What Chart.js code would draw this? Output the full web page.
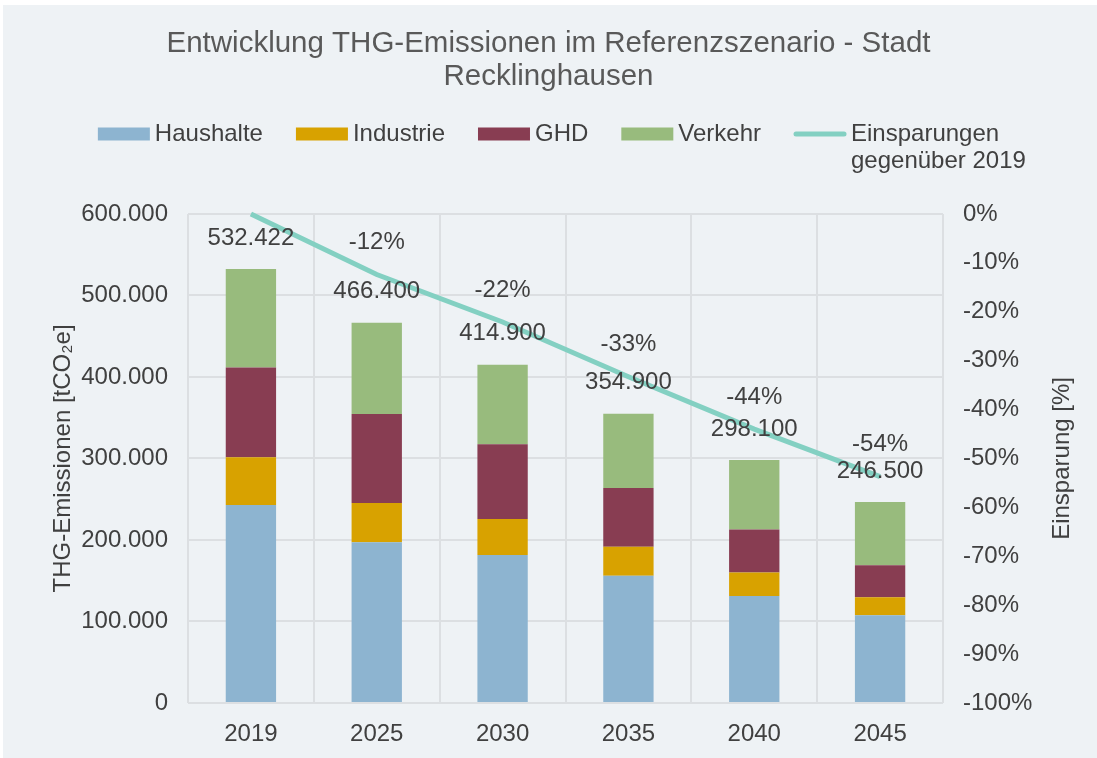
<!DOCTYPE html>
<html>
<head>
<meta charset="utf-8">
<script src="https://cdn.jsdelivr.net/npm/chart.js@4/dist/chart.umd.min.js"></script>
<style>
  html, body { margin: 0; padding: 0; background: #ffffff; }
  #wrap { position: absolute; left: 0; top: 0; width: 1097px; height: 758px; }
</style>
</head>
<body>
<div id="wrap"><canvas id="mychart"></canvas></div>
<script>
// data
var years = ['2019', '2025', '2030', '2035', '2040', '2045'];
var haushalte = [243000, 197100, 181700, 156100, 131200, 107700];
var industrie = [58600, 48400, 43900, 35700, 28900, 21900];
var ghd = [110100, 108900, 91800, 72000, 52800, 39400];
var verkehr = [120722, 112000, 97500, 91100, 85200, 77500];
var einsparung = [0, -12.4, -22.1, -33.3, -44.0, -53.7];
var leftTicks = [0, 100000, 200000, 300000, 400000, 500000, 600000];

var textCol = '#404040';
var gridCol = '#dcdfe2';
var fontName = '"Liberation Sans", Arial, sans-serif';
var fs = 24;

function fmt(v) {
    return String(Math.round(v)).replace(/\B(?=(\d{3})+(?!\d))/g, '.');
}

// background panel
var bgPlugin = {
    id: 'bg',
    beforeDraw: function(chart) {
        var ctx = chart.ctx;
        ctx.save();
        ctx.fillStyle = '#eef2f5';
        ctx.fillRect(3, 5, chart.width - 3, chart.height - 5);
        ctx.restore();
    }
};

// legend drawn by hand so that the last entry can wrap onto two lines
var legendPlugin = {
    id: 'myLegend',
    afterDraw: function(chart) {
        var ctx = chart.ctx;
        ctx.save();
        ctx.font = fs + 'px ' + fontName;
        ctx.textBaseline = 'middle';
        var items = chart.data.datasets.map(function(ds) {
            var lines = Array.isArray(ds.label) ? ds.label : [ds.label];
            var w = Math.max.apply(null, lines.map(function(t) { return ctx.measureText(t).width; }));
            return { ds: ds, lines: lines, w: w };
        });
        // legend order: bars first, line last
        items.sort(function(a, b) { return (a.ds.type === 'line') - (b.ds.type === 'line'); });
        var box = 52, gap = 5, space = 33;
        var total = 0;
        items.forEach(function(it, i) {
            total += box + gap + (i < items.length - 1 ? it.w + space : ctx.measureText(it.lines[0]).width);
        });
        var x = chart.width / 2 - total / 2;
        var y = 134;
        items.forEach(function(it) {
            if (it.ds.type === 'line') {
                ctx.strokeStyle = it.ds.borderColor;
                ctx.lineWidth = 5;
                ctx.lineCap = 'round';
                ctx.beginPath();
                ctx.moveTo(x + 2, y);
                ctx.lineTo(x + box - 2, y);
                ctx.stroke();
            } else {
                ctx.fillStyle = it.ds.backgroundColor;
                ctx.fillRect(x, y - 6.5, box, 13);
            }
            ctx.fillStyle = textCol;
            it.lines.forEach(function(t, k) {
                ctx.fillText(t, x + box + gap, y + k * 27);
            });
            x += box + gap + it.w + space;
        });

        // right axis title, rotated the same way as the left one
        var area = chart.chartArea;
        ctx.translate(1062, (area.top + area.bottom) / 2);
        ctx.rotate(-Math.PI / 2);
        ctx.textAlign = 'center';
        ctx.fillText('Einsparung [%]', 0, 0);
        ctx.restore();
    }
};

// totals above the bars and savings above the line
var labelPlugin = {
    id: 'valueLabels',
    afterDatasetsDraw: function(chart) {
        var ctx = chart.ctx;
        var yScale = chart.scales.y;
        ctx.save();
        ctx.font = fs + 'px ' + fontName;
        ctx.fillStyle = textCol;
        ctx.textAlign = 'center';
        ctx.textBaseline = 'middle';
        var barMeta = chart.getDatasetMeta(0);
        years.forEach(function(yr, i) {
            var sum = haushalte[i] + industrie[i] + ghd[i] + verkehr[i];
            var x = barMeta.data[i].x;
            ctx.fillText(fmt(sum), x, yScale.getPixelForValue(sum) - 31);
        });
        var lineMeta = chart.getDatasetMeta(4);
        einsparung.forEach(function(v, i) {
            if (i === 0) return;
            var pt = lineMeta.data[i];
            ctx.fillText(Math.round(v) + '%', pt.x, pt.y - 32);
        });
        ctx.restore();
    }
};

const ctx = document.getElementById('mychart');
var myChart = new Chart(ctx, {
    type: 'bar',
    data: {
        labels: years,
        datasets: [
            { label: 'Haushalte', data: haushalte, backgroundColor: '#8db4d0', stack: 's', order: 1 },
            { label: 'Industrie', data: industrie, backgroundColor: '#d8a200', stack: 's', order: 1 },
            { label: 'GHD', data: ghd, backgroundColor: '#883d52', stack: 's', order: 1 },
            { label: 'Verkehr', data: verkehr, backgroundColor: '#98bb7d', stack: 's', order: 1 },
            {
                type: 'line',
                label: ['Einsparungen', 'gegenüber 2019'],
                data: einsparung,
                yAxisID: 'y2',
                borderColor: '#83d0c2',
                backgroundColor: '#83d0c2',
                borderWidth: 5,
                pointRadius: 0,
                tension: 0,
                clip: false,
                order: 0
            }
        ]
    },
    options: {
        responsive: true,
        maintainAspectRatio: false,
        animation: false,
        layout: { padding: { left: 0, right: 0, top: 0, bottom: 0 } },
        plugins: {
            legend: { display: false },
            tooltip: { enabled: false },
            title: {
                display: true,
                text: ['Entwicklung THG-Emissionen im Referenzszenario - Stadt', 'Recklinghausen'],
                color: '#595959',
                font: { family: fontName, size: 29.5, weight: 'normal', lineHeight: 1.1 },
                padding: { top: 28, bottom: 121 }
            }
        },
        scales: {
            x: {
                stacked: true,
                offset: true,
                grid: { offset: true, color: gridCol, lineWidth: 2, drawTicks: false },
                border: { display: false },
                ticks: { color: textCol, font: { family: fontName, size: fs }, padding: 17 },
                afterFit: function(s) { s.height = 55; }
            },
            y: {
                stacked: true,
                min: 0,
                max: 600000,
                grid: { color: gridCol, lineWidth: 2, drawTicks: false },
                border: { display: false },
                afterBuildTicks: function(s) { s.ticks = leftTicks.map(function(v) { return { value: v }; }); },
                ticks: {
                    color: textCol,
                    font: { family: fontName, size: fs },
                    padding: 20,
                    callback: function(v) { return fmt(v); }
                },
                title: {
                    display: true,
                    text: 'THG-Emissionen [tCO₂e]',
                    color: textCol,
                    font: { family: fontName, size: fs },
                    padding: { top: 49, bottom: 0 }
                },
                afterFit: function(s) { s.width = 188; }
            },
            y2: {
                position: 'right',
                min: -100,
                max: 0,
                grid: { display: false, drawTicks: false },
                border: { display: false },
                ticks: {
                    stepSize: 10,
                    color: textCol,
                    font: { family: fontName, size: fs },
                    padding: 20,
                    callback: function(v) { return v + '%'; }
                },
                afterFit: function(s) { s.width = 154; }
            }
        },
        datasets: { bar: { categoryPercentage: 1, barPercentage: 0.4 } }
    },
    plugins: [bgPlugin, legendPlugin, labelPlugin]
});
</script>
</body>
</html>
